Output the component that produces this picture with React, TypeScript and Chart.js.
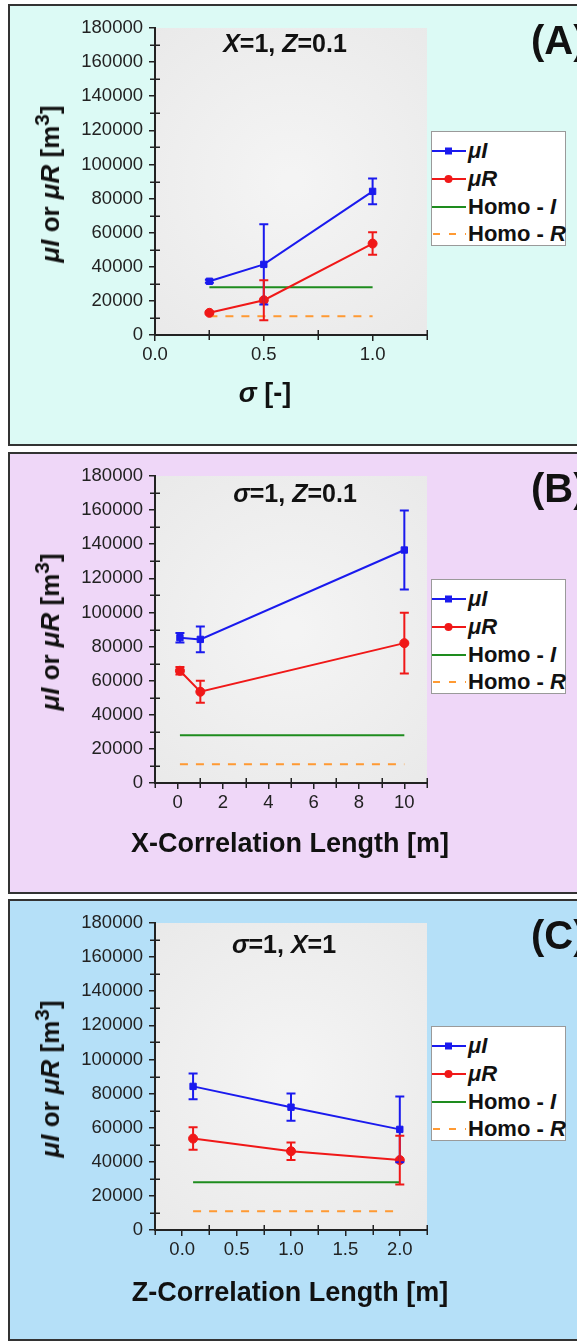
import React, { useEffect, useRef } from "react";
import { Chart, registerables } from "chart.js";

Chart.register(...registerables);

// ---------------- data ----------------
// Panel A: sigma
const sigmaValues = [0.25, 0.5, 1.0];
const muI_sigma = [31500, 41400, 84200];
const muI_sigmaErr = [900, 23500, 7600];
const muR_sigma = [13000, 20400, 53600];
const muR_sigmaErr = [600, 11700, 6600];

// Panel B: X-correlation length
const xCorrValues = [0.1, 1, 10];
const muI_x = [85200, 84200, 136600];
const muI_xErr = [2800, 7600, 23200];
const muR_x = [65800, 53500, 82000];
const muR_xErr = [2200, 6500, 17800];

// Panel C: Z-correlation length
const zCorrValues = [0.1, 1, 2];
const muI_z = [84200, 72000, 59000];
const muI_zErr = [7600, 8000, 19300];
const muR_z = [53600, 46200, 41000];
const muR_zErr = [6600, 5100, 14300];

// Homogeneous reference values
const homoI = 28000;
const homoR = 11000;

// Axis tick settings
const yMin = 0;
const yMax = 180000;
const yStep = 10000;
const yLabelStep = 20000;

const FONT = "'Liberation Sans', Arial, Helvetica, sans-serif";
const BLUE = "#1a1aee";
const RED = "#f01818";
const GREEN = "#1e8c1e";
const ORANGE = "#ff9a33";
const AXIS = "#222";

const PANEL_H = 442;
const CANVAS_W = 577;

type PanelCfg = {
  key: string;
  top: number;
  bg: string;
  xs: number[];
  muI: number[];
  muIErr: number[];
  muR: number[];
  muRErr: number[];
  xMin: number;
  xMax: number;
  xStep: number;
  xLabelStep: number;
  xDecimals: number;
  title: React.ReactNode;
  titleX: number;
  titleY: number;
  xTitle: React.ReactNode;
  xTitleX: number;
  xTitleY: number;
};

const panels: PanelCfg[] = [
  {
    key: "A",
    top: 4,
    bg: "#dcfaf5",
    xs: sigmaValues,
    muI: muI_sigma,
    muIErr: muI_sigmaErr,
    muR: muR_sigma,
    muRErr: muR_sigmaErr,
    xMin: 0,
    xMax: 1.25,
    xStep: 0.25,
    xLabelStep: 0.5,
    xDecimals: 1,
    title: (
      <>
        <i>X</i>=1, <i>Z</i>=0.1
      </>
    ),
    titleX: 285,
    titleY: 39,
    xTitle: (
      <>
        <i>σ</i> [-]
      </>
    ),
    xTitleX: 265,
    xTitleY: 389,
  },
  {
    key: "B",
    top: 452,
    bg: "#efd7f8",
    xs: xCorrValues,
    muI: muI_x,
    muIErr: muI_xErr,
    muR: muR_x,
    muRErr: muR_xErr,
    xMin: -1,
    xMax: 11,
    xStep: 1,
    xLabelStep: 2,
    xDecimals: 0,
    title: (
      <>
        <i>σ</i>=1, <i>Z</i>=0.1
      </>
    ),
    titleX: 295,
    titleY: 41,
    xTitle: <>X-Correlation Length [m]</>,
    xTitleX: 290,
    xTitleY: 391,
  },
  {
    key: "C",
    top: 899,
    bg: "#b5e0f8",
    xs: zCorrValues,
    muI: muI_z,
    muIErr: muI_zErr,
    muR: muR_z,
    muRErr: muR_zErr,
    xMin: -0.25,
    xMax: 2.25,
    xStep: 0.25,
    xLabelStep: 0.5,
    xDecimals: 1,
    title: (
      <>
        <i>σ</i>=1, <i>X</i>=1
      </>
    ),
    titleX: 284,
    titleY: 45,
    xTitle: <>Z-Correlation Length [m]</>,
    xTitleX: 290,
    xTitleY: 393,
  },
];

function isMultiple(v: number, step: number) {
  const k = v / step;
  return Math.abs(k - Math.round(k)) < 1e-6;
}

const plotBgPlugin = {
  id: "plotBg",
  beforeDraw(chart: any) {
    const { ctx, chartArea } = chart;
    if (!chartArea) return;
    const { left, top, right, bottom } = chartArea;
    const cx = (left + right) / 2;
    const cy = (top + bottom) / 2;
    const g = ctx.createRadialGradient(cx, cy, 10, cx, cy, Math.max(right - left, bottom - top) * 0.75);
    g.addColorStop(0, "#f4f4f4");
    g.addColorStop(1, "#e8e8e8");
    ctx.save();
    ctx.fillStyle = g;
    ctx.fillRect(left, top, right - left, bottom - top);
    ctx.restore();
  },
};

// minor ticks cross the axis line (major ticks are drawn by the scales themselves)
const minorTickPlugin = {
  id: "minorTicks",
  afterDraw(chart: any, _args: any, opts: any) {
    const { ctx, chartArea } = chart;
    const xs = chart.scales.x;
    const ys = chart.scales.y;
    ctx.save();
    ctx.strokeStyle = AXIS;
    ctx.lineWidth = 1.5;
    ctx.beginPath();
    ys.ticks.forEach((t: any) => {
      if (isMultiple(t.value, yLabelStep)) return;
      const py = Math.round(ys.getPixelForValue(t.value)) + 0.25;
      ctx.moveTo(chartArea.left - 5, py);
      ctx.lineTo(chartArea.left + 5, py);
    });
    xs.ticks.forEach((t: any) => {
      if (isMultiple(t.value, opts.xLabelStep)) return;
      const px = Math.round(xs.getPixelForValue(t.value)) + 0.25;
      ctx.moveTo(px, chartArea.bottom - 5);
      ctx.lineTo(px, chartArea.bottom + 5);
    });
    ctx.stroke();
    ctx.restore();
  },
};

const errorBarPlugin = {
  id: "errorBars",
  afterDatasetsDraw(chart: any) {
    const { ctx } = chart;
    const xs = chart.scales.x;
    const ys = chart.scales.y;
    chart.data.datasets.forEach((ds: any) => {
      if (!ds.errors) return;
      ctx.save();
      ctx.strokeStyle = ds.borderColor;
      ctx.lineWidth = 2;
      ds.data.forEach((p: any, i: number) => {
        const e = ds.errors[i];
        if (!e) return;
        const px = xs.getPixelForValue(p.x);
        const t = ys.getPixelForValue(p.y + e);
        const b = ys.getPixelForValue(p.y - e);
        ctx.beginPath();
        ctx.moveTo(px, t);
        ctx.lineTo(px, b);
        ctx.moveTo(px - 4.5, t);
        ctx.lineTo(px + 4.5, t);
        ctx.moveTo(px - 4.5, b);
        ctx.lineTo(px + 4.5, b);
        ctx.stroke();
      });
      ctx.restore();
    });
  },
};

function PanelChart({ cfg }: { cfg: PanelCfg }) {
  const ref = useRef<HTMLCanvasElement | null>(null);
  useEffect(() => {
    if (!ref.current) return;
    const first = cfg.xs[0];
    const last = cfg.xs[cfg.xs.length - 1];
    const gridFor = (majorStep: number) => ({
      display: true,
      drawOnChartArea: false,
      drawTicks: true,
      tickLength: 6,
      lineWidth: 1.5,
      color: AXIS,
      tickColor: (c: any) =>
        c.tick && isMultiple(c.tick.value, majorStep) ? AXIS : "rgba(0,0,0,0)",
    });
    const border = { display: true, color: AXIS, width: 2 };
    const chart = new Chart(ref.current, {
      type: "line",
      data: {
        datasets: [
          {
            label: "μI",
            data: cfg.xs.map((x, i) => ({ x, y: cfg.muI[i] })),
            errors: cfg.muIErr,
            borderColor: BLUE,
            backgroundColor: BLUE,
            borderWidth: 2,
            pointStyle: "rect",
            pointRadius: 4.5,
            pointBackgroundColor: BLUE,
            pointBorderColor: BLUE,
            pointBorderWidth: 1,
          } as any,
          {
            label: "μR",
            data: cfg.xs.map((x, i) => ({ x, y: cfg.muR[i] })),
            errors: cfg.muRErr,
            borderColor: RED,
            backgroundColor: RED,
            borderWidth: 2,
            pointStyle: "circle",
            pointRadius: 4.5,
            pointBackgroundColor: RED,
            pointBorderColor: RED,
            pointBorderWidth: 1,
          } as any,
          {
            label: "Homo - I",
            data: [
              { x: first, y: homoI },
              { x: last, y: homoI },
            ],
            borderColor: GREEN,
            borderWidth: 2,
            pointRadius: 0,
          },
          {
            label: "Homo - R",
            data: [
              { x: first, y: homoR },
              { x: last, y: homoR },
            ],
            borderColor: ORANGE,
            borderWidth: 2,
            borderDash: [8, 8],
            pointRadius: 0,
          },
        ],
      },
      options: {
        animation: false,
        responsive: false,
        maintainAspectRatio: false,
        devicePixelRatio: 1,
        layout: { padding: { left: 0, right: CANVAS_W - 427, top: 24, bottom: 0 } },
        plugins: {
          legend: { display: false },
          tooltip: { enabled: false },
          title: { display: false },
          minorTicks: { xLabelStep: cfg.xLabelStep },
        },
        scales: {
          x: {
            type: "linear",
            min: cfg.xMin,
            max: cfg.xMax,
            afterFit: (s: any) => {
              s.height = PANEL_H - 331;
            },
            ticks: {
              stepSize: cfg.xStep,
              autoSkip: false,
              maxRotation: 0,
              padding: 3,
              color: AXIS,
              font: { family: FONT, size: 18.5 },
              callback: (v: any) => {
                const n = Number(v);
                return isMultiple(n, cfg.xLabelStep) ? n.toFixed(cfg.xDecimals) : "";
              },
            },
            grid: gridFor(cfg.xLabelStep),
            border,
          },
          y: {
            type: "linear",
            min: yMin,
            max: yMax,
            afterFit: (s: any) => {
              s.width = 155;
            },
            ticks: {
              stepSize: yStep,
              autoSkip: false,
              padding: 6,
              color: AXIS,
              font: { family: FONT, size: 18.5 },
              callback: (v: any) => {
                const n = Number(v);
                return isMultiple(n, yLabelStep) ? String(n) : "";
              },
            },
            grid: gridFor(yLabelStep),
            border,
          },
        },
      } as any,
      plugins: [plotBgPlugin, errorBarPlugin, minorTickPlugin],
    });
    return () => chart.destroy();
  }, [cfg]);
  return (
    <canvas
      ref={ref}
      width={CANVAS_W}
      height={PANEL_H}
      style={{ position: "absolute", left: 0, top: 0, width: CANVAS_W, height: PANEL_H, display: "block" }}
    />
  );
}

function Swatch({ kind }: { kind: "I" | "R" | "HI" | "HR" }) {
  return (
    <svg width={34} height={12} style={{ position: "absolute", left: 0, top: -6 }}>
      {kind === "I" && (
        <>
          <line x1={0} y1={6} x2={34} y2={6} stroke={BLUE} strokeWidth={2} />
          <rect x={13} y={2.5} width={7} height={7} fill={BLUE} />
        </>
      )}
      {kind === "R" && (
        <>
          <line x1={0} y1={6} x2={34} y2={6} stroke={RED} strokeWidth={2} />
          <circle cx={16.5} cy={6} r={4} fill={RED} />
        </>
      )}
      {kind === "HI" && <line x1={0} y1={6} x2={34} y2={6} stroke={GREEN} strokeWidth={2} />}
      {kind === "HR" && (
        <line x1={1} y1={6} x2={34} y2={6} stroke={ORANGE} strokeWidth={2} strokeDasharray="7 9" />
      )}
    </svg>
  );
}

function Legend() {
  const rows: { kind: "I" | "R" | "HI" | "HR"; y: number; text: React.ReactNode }[] = [
    { kind: "I", y: 19, text: <i>μI</i> },
    { kind: "R", y: 47, text: <i>μR</i> },
    {
      kind: "HI",
      y: 75,
      text: (
        <>
          Homo - <i>I</i>
        </>
      ),
    },
    {
      kind: "HR",
      y: 102,
      text: (
        <>
          Homo - <i>R</i>
        </>
      ),
    },
  ];
  return (
    <div
      style={{
        position: "absolute",
        left: 431,
        top: 127,
        width: 135,
        height: 115,
        background: "#ffffff",
        border: "1px solid #9a9a9a",
        boxSizing: "border-box",
      }}
    >
      {rows.map((r, i) => (
        <div key={i} style={{ position: "absolute", left: 0, top: r.y, width: "100%" }}>
          <Swatch kind={r.kind} />
          <div
            style={{
              position: "absolute",
              left: 36,
              top: 0,
              transform: "translateY(-50%)",
              fontFamily: FONT,
              fontWeight: 700,
              fontSize: 22,
              lineHeight: 1,
              whiteSpace: "nowrap",
              color: "#111",
            }}
          >
            {r.text}
          </div>
        </div>
      ))}
    </div>
  );
}

const centered = (x: number, y: number, size: number, extra: any = {}) => ({
  position: "absolute" as const,
  left: x,
  top: y,
  transform: "translate(-50%, -50%)",
  fontFamily: FONT,
  fontWeight: 700,
  fontSize: size,
  lineHeight: 1,
  whiteSpace: "nowrap" as const,
  color: "#111",
  ...extra,
});

function Panel({ cfg }: { cfg: PanelCfg }) {
  return (
    <div style={{ position: "absolute", left: 0, top: cfg.top, width: CANVAS_W, height: PANEL_H }}>
      <div
        style={{
          position: "absolute",
          left: 8,
          top: 0,
          width: 620,
          height: PANEL_H,
          background: cfg.bg,
          border: "2px solid #333",
          boxSizing: "border-box",
        }}
      />
      <PanelChart cfg={cfg} />
      <div style={centered(cfg.titleX, cfg.titleY, 25)}>{cfg.title}</div>
      <div style={{ ...centered(531, 36, 40), transform: "translateY(-50%)" }}>({cfg.key})</div>
      <div style={centered(50, 180, 26, { transform: "translate(-50%, -50%) rotate(-90deg)" })}>
        <i>μI</i> or <i>μR</i> [m<sup style={{ fontSize: "0.8em", lineHeight: 0, verticalAlign: "0.5em" }}>3</sup>]
      </div>
      <div style={centered(cfg.xTitleX, cfg.xTitleY, 27)}>{cfg.xTitle}</div>
      <Legend />
    </div>
  );
}

export default function App() {
  return (
    <div
      style={{
        position: "absolute",
        left: 0,
        top: 0,
        width: 577,
        height: 1341,
        overflow: "hidden",
        background: "#ffffff",
      }}
    >
      {panels.map((p) => (
        <Panel key={p.key} cfg={p} />
      ))}
    </div>
  );
}
